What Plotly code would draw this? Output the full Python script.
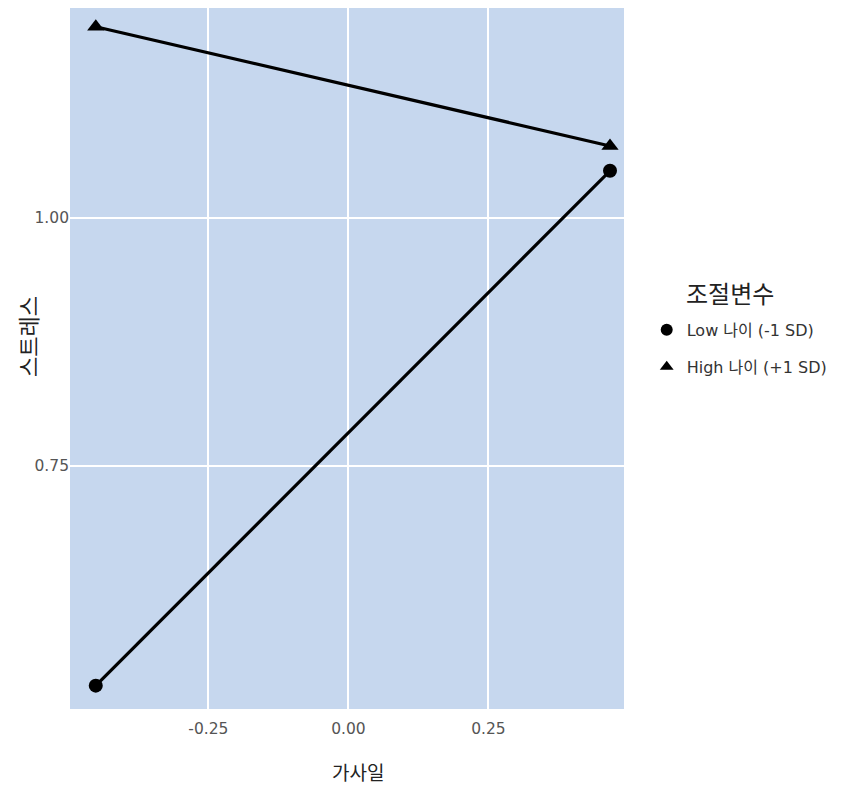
import plotly.graph_objects as go

# Data
x_vals = [-0.451, 0.467]
low_vals = [0.529, 1.047]
high_vals = [1.192, 1.072]
series_names = ["Low 나이 (-1 SD)", "High 나이 (+1 SD)"]
legend_title = "조절변수"
x_title = "가사일"
y_title = "스트레스"
x_ticks = [-0.25, 0.00, 0.25]
x_tick_labels = ["-0.25", "0.00", "0.25"]
y_ticks = [0.75, 1.00]
y_tick_labels = ["0.75", "1.00"]

FONT = "DejaVu Sans, Noto Sans CJK KR"
KFONT = "Noto Sans CJK KR"
fig = go.Figure()

for i, (yv, name, sym) in enumerate([(low_vals, series_names[0], "circle"),
                                      (high_vals, series_names[1], "triangle-up")]):
    fig.add_trace(go.Scatter(x=x_vals, y=yv, mode="lines", line=dict(color="black", width=3.2),
                             showlegend=False, hoverinfo="skip"))
    fig.add_trace(go.Scatter(x=x_vals, y=yv, mode="markers", name=name, legendgroup=f"g{i}",
                             marker=dict(symbol=sym, color="black", size=14 if sym == "circle" else 15)))

fig.update_layout(
    width=845, height=780,
    margin=dict(l=62, r=229, t=0, b=79),
    plot_bgcolor="#c6d7ee", paper_bgcolor="white",
    font=dict(family=FONT, color="#333333"),
    legend=dict(
        font=dict(size=16, color="#333333", family=FONT),
        x=1.041, xanchor="left", y=0.565, yanchor="top",
        bgcolor="rgba(0,0,0,0)", itemsizing="constant", tracegroupgap=13,
    ),
    annotations=[
        dict(text=legend_title, xref="paper", yref="paper", x=(722 - 62) / 554, y=(701 - 284) / 701,
             xanchor="center", yanchor="middle", showarrow=False,
             font=dict(size=24, color="#222222", family=KFONT)),
        dict(text=y_title, xref="paper", yref="paper", x=(19 - 62) / 554, y=(701 - 328) / 701,
             xanchor="center", yanchor="middle", showarrow=False, textangle=-90,
             font=dict(size=22, color="#222222", family=KFONT)),
        dict(text=x_title, xref="paper", yref="paper", x=(350 - 62) / 554, y=(701 - 764) / 701,
             xanchor="center", yanchor="middle", showarrow=False,
             font=dict(size=19, color="#222222", family=KFONT)),
    ],
)
fig.update_xaxes(
    range=[-0.497, 0.492], tickvals=x_ticks, ticktext=x_tick_labels,
    showgrid=True, gridcolor="white", gridwidth=2, zeroline=False,
    ticks="", tickfont=dict(size=15.5, color="#555555"), ticklabelstandoff=8,
    showline=False,
)
fig.update_yaxes(
    range=[0.5055, 1.2108], tickvals=y_ticks, ticktext=y_tick_labels,
    showgrid=True, gridcolor="white", gridwidth=2, zeroline=False,
    ticks="", tickfont=dict(size=15.5, color="#555555"),
    showline=False,
)

fig.write_html("out.html")
